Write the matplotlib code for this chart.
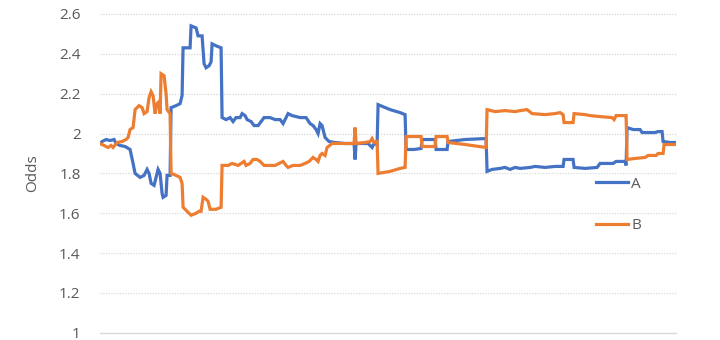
import matplotlib
matplotlib.use('Agg')
import matplotlib.pyplot as plt

# Time steps and odds for series A (blue)
t_a = [0, 2, 6, 10, 14, 16, 20, 25, 30, 33, 35, 40, 44, 47, 49, 51, 54, 56, 58, 60,
       62, 63, 66, 67, 70, 71, 76, 80, 82, 83, 90, 91, 96, 98, 102, 104, 106, 109, 111, 112,
       116, 121, 122, 126, 130, 133, 136, 140, 142, 145, 147, 151, 154, 158, 161, 164, 170, 175, 180, 183,
       186, 188, 192, 200, 206, 210, 213, 216, 218, 220, 222, 225, 229, 235, 245, 254, 255, 256, 262, 268,
       272, 274, 277, 278, 290, 300, 305, 306, 314, 321, 322, 335, 336, 347, 348, 365, 386, 387, 392, 400,
       405, 410, 415, 420, 430, 435, 445, 455, 463, 464, 473, 474, 485, 497, 500, 513, 516, 525, 526, 527,
       533, 540, 542, 555, 558, 562, 563, 570, 576]
odds_a = [1.95, 1.96, 1.97, 1.965, 1.97, 1.95, 1.94, 1.935, 1.92, 1.85, 1.80, 1.78, 1.79, 1.82, 1.80, 1.75, 1.74, 1.78, 1.82, 1.80,
          1.70, 1.68, 1.69, 1.79, 1.79, 2.13, 2.14, 2.15, 2.19, 2.43, 2.43, 2.54, 2.53, 2.49, 2.49, 2.35, 2.33, 2.34, 2.36, 2.45,
          2.44, 2.43, 2.08, 2.07, 2.08, 2.06, 2.08, 2.08, 2.10, 2.09, 2.07, 2.06, 2.04, 2.04, 2.06, 2.08, 2.08, 2.07, 2.07, 2.05,
          2.08, 2.10, 2.09, 2.08, 2.08, 2.05, 2.04, 2.02, 2.00, 2.05, 2.04, 1.98, 1.96, 1.955, 1.95, 1.95, 1.87, 1.95, 1.95, 1.95,
          1.93, 1.95, 1.945, 2.145, 2.12, 2.105, 2.095, 1.92, 1.92, 1.925, 1.97, 1.97, 1.92, 1.92, 1.96, 1.97, 1.975, 1.81, 1.82, 1.825,
          1.83, 1.82, 1.83, 1.825, 1.83, 1.835, 1.83, 1.835, 1.835, 1.87, 1.87, 1.83, 1.825, 1.83, 1.85, 1.85, 1.86, 1.86, 1.84, 2.03,
          2.02, 2.02, 2.005, 2.005, 2.01, 2.01, 1.96, 1.955, 1.955]

# Time steps and odds for series B (orange)
t_b = [0, 4, 8, 11, 13, 17, 22, 26, 28, 30, 33, 35, 39, 42, 44, 47, 49, 51, 53, 55,
       57, 59, 60, 61, 64, 66, 67, 70, 71, 76, 80, 82, 83, 87, 91, 96, 99, 101, 103, 106,
       108, 110, 116, 121, 122, 128, 132, 138, 141, 144, 146, 150, 153, 157, 160, 164, 170, 175, 179, 183,
       186, 188, 193, 200, 205, 209, 213, 216, 218, 220, 222, 225, 227, 232, 245, 254, 255, 256, 265, 270,
       272, 274, 277, 278, 290, 300, 305, 306, 321, 322, 335, 336, 347, 348, 365, 386, 387, 395, 405, 415,
       420, 427, 432, 445, 455, 460, 463, 464, 473, 474, 485, 490, 500, 512, 514, 516, 525, 526, 527, 535,
       545, 548, 556, 558, 563, 564, 576]
odds_b = [1.95, 1.94, 1.93, 1.94, 1.93, 1.955, 1.96, 1.97, 1.98, 2.02, 2.03, 2.12, 2.14, 2.13, 2.10, 2.11, 2.18, 2.21, 2.19, 2.10,
          2.15, 2.16, 2.10, 2.30, 2.29, 2.20, 2.12, 2.10, 1.80, 1.79, 1.78, 1.75, 1.63, 1.61, 1.59, 1.60, 1.61, 1.61, 1.68, 1.67,
          1.66, 1.62, 1.62, 1.63, 1.84, 1.84, 1.85, 1.84, 1.85, 1.86, 1.84, 1.85, 1.87, 1.87, 1.86, 1.84, 1.84, 1.84, 1.85, 1.86,
          1.84, 1.83, 1.84, 1.84, 1.85, 1.86, 1.88, 1.87, 1.86, 1.89, 1.90, 1.89, 1.93, 1.95, 1.95, 1.95, 2.03, 1.95, 1.955, 1.96,
          1.975, 1.955, 1.96, 1.80, 1.81, 1.825, 1.83, 1.985, 1.985, 1.935, 1.935, 1.985, 1.985, 1.955, 1.945, 1.93, 2.12, 2.11, 2.115, 2.11,
          2.115, 2.12, 2.10, 2.095, 2.10, 2.105, 2.095, 2.055, 2.055, 2.10, 2.095, 2.09, 2.085, 2.08, 2.07, 2.09, 2.09, 2.09, 1.87, 1.875,
          1.88, 1.89, 1.89, 1.90, 1.90, 1.945, 1.945]

y_ticks = [1, 1.2, 1.4, 1.6, 1.8, 2, 2.2, 2.4, 2.6]
y_labels = ['1', '1.2', '1.4', '1.6', '1.8', '2', '2.2', '2.4', '2.6']

plt.rcParams['font.family'] = ['Open Sans', 'DejaVu Sans']

fig = plt.figure(figsize=(7.2, 3.4), dpi=100)
ax = fig.add_axes([0.139, 0.021, 0.8, 0.938])

ax.plot(t_a, odds_a, color='#4472C4', linewidth=2.3, label='A', solid_joinstyle='miter')
ax.plot(t_b, odds_b, color='#ED7D31', linewidth=2.3, label='B', solid_joinstyle='miter')

ax.set_xlim(0, 576)
ax.set_ylim(1, 2.6)
ax.set_yticks(y_ticks)
ax.set_yticklabels(y_labels)
ax.set_xticks([])
ax.tick_params(axis='y', length=0, pad=14, labelsize=11, labelcolor='#595959')

for y in y_ticks[1:]:
    ax.axhline(y, color='#D9D9D9', linewidth=0.9, linestyle=(0, (1, 1.2)), zorder=0, clip_on=False)

for side in ['top', 'right', 'left']:
    ax.spines[side].set_visible(False)
ax.spines['bottom'].set_color('#D9D9D9')
ax.spines['bottom'].set_linewidth(1.0)

ax.set_ylabel('Odds', fontsize=11, color='#595959', labelpad=14)

ax.legend(loc='upper left', bbox_to_anchor=(0.861, 0.49), frameon=False, fontsize=11,
          handlelength=2.1, handletextpad=0.2, labelspacing=1.75, borderpad=0, borderaxespad=0,
          labelcolor='#595959')

fig.savefig('out.png', dpi=100)
